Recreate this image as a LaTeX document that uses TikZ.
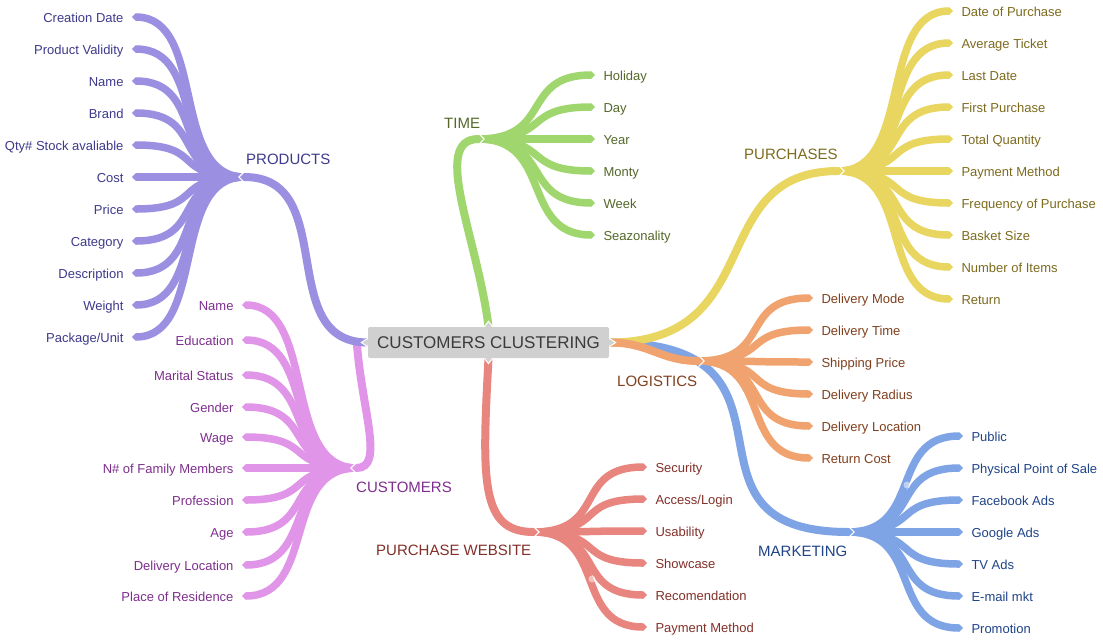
\documentclass[tikz,border=0pt]{standalone}
\usepackage{fontspec}
\setmainfont{Liberation Sans}
\usetikzlibrary{calc,arrows.meta,backgrounds}

\definecolor{prodln}{HTML}{9B8FE2}
\definecolor{prodtx}{HTML}{3E3A8C}
\definecolor{custln}{HTML}{E195E8}
\definecolor{custtx}{HTML}{7E2F8E}
\definecolor{timeln}{HTML}{A0D66E}
\definecolor{timetx}{HTML}{55682A}
\definecolor{purcln}{HTML}{E8D660}
\definecolor{purctx}{HTML}{7D6B1E}
\definecolor{logiln}{HTML}{F0A36E}
\definecolor{logitx}{HTML}{80401E}
\definecolor{markln}{HTML}{7EA4E6}
\definecolor{marktx}{HTML}{1F4488}
\definecolor{websln}{HTML}{E8857E}
\definecolor{webstx}{HTML}{82302A}
\definecolor{boxgray}{HTML}{D0D0D0}
\definecolor{ctrtx}{HTML}{3B3B3B}

\tikzset{
  twig/.style={line width=7.5pt, -{Triangle[length=4pt,width=7.5pt,line width=0.1pt]}},
  trunk/.style={line width=8pt, -{Triangle[length=4.5pt,width=8pt,line width=0.1pt]}},
  leafL/.style={anchor=east, inner sep=0pt, outer xsep=8.5pt, text height=11.3pt, text depth=0pt, font=\fontsize{13}{15}\selectfont},
  leafR/.style={leafL, anchor=west},
  grp/.style={anchor=west, inner sep=0pt, text height=12.7pt, text depth=0pt, font=\fontsize{15}{18}\selectfont},
  ctr/.style={fill=boxgray, rounded corners=2pt, minimum width=241pt, minimum height=31pt, inner sep=0pt, text=ctrtx, font=\fontsize{17}{20}\selectfont},
  notch/.style={white, line width=1.2pt}
}
\newcommand\notchL[1]{\draw[notch] ($(#1)+(4.4,-5.5)$) -- ($(#1)+(-1.1,0)$) -- ($(#1)+(4.4,5.5)$);}
\newcommand\notchR[1]{\draw[notch] ($(#1)+(-4.4,-5.5)$) -- ($(#1)+(1.1,0)$) -- ($(#1)+(-4.4,5.5)$);}

\begin{document}
\begin{tikzpicture}[x=1pt,y=-1pt]
\useasboundingbox (0,0) rectangle (1103,641);
\pgfmathsetmacro{\k}{75}

% centre
\node[ctr] (cc) at (488.5,342.5) {CUSTOMERS CLUSTERING};
\coordinate (ccw) at ($(cc.west)+(-11,0)$);

% branch points
\coordinate (bprod) at (240,177);
\coordinate (bcust) at (352,468);
\coordinate (btime) at (483,139);
\coordinate (bpurc) at (843,171);
\coordinate (blogi) at (703,361);
\coordinate (bmark) at (853,532);
\coordinate (bwebs) at (538,532);

% leaves
\foreach \t [count=\i from 0] in {Creation Date,Product Validity,Name,Brand,Qty\# Stock avaliable,Cost,Price,Category,Description,Weight,Package/Unit}
  \node[leafL, text=prodtx] (prod\i) at (132,{17+32*\i}) {\t};
\foreach \y/\t [count=\i] in {305/Name,340/Education,375/Marital Status,407/Gender,437/Wage,468/N\# of Family Members,500/Profession,532/Age,565/Delivery Location,596/Place of Residence}
  \node[leafL, text=custtx] (cust\i) at (242,\y) {\t};
\foreach \t [count=\i from 0] in {Holiday,Day,Year,Monty,Week,Seazonality}
  \node[leafR, text=timetx] (time\i) at (595,{75+32*\i}) {\t};
\foreach \t [count=\i from 0] in {Date of Purchase,Average Ticket,Last Date,First Purchase,Total Quantity,Payment Method,Frequency of Purchase,Basket Size,Number of Items,Return}
  \node[leafR, text=purctx] (purc\i) at (953,{11+32*\i}) {\t};
\foreach \t [count=\i from 0] in {Delivery Mode,Delivery Time,Shipping Price,Delivery Radius,Delivery Location,Return Cost}
  \node[leafR, text=logitx] (logi\i) at (813,{298+32*\i}) {\t};
\foreach \t [count=\i from 0] in {Public,Physical Point of Sale,Facebook Ads,Google Ads,TV Ads,E-mail mkt,Promotion}
  \node[leafR, text=marktx] (mark\i) at (963,{436+32*\i}) {\t};
\foreach \t [count=\i from 0] in {Security,Access/Login,Usability,Showcase,Recomendation,Payment Method}
  \node[leafR, text=webstx] (webs\i) at (647,{467+32*\i}) {\t};

% group labels
\node[grp, text=prodtx] (lprod) at (246,158) {PRODUCTS};
\node[grp, text=custtx] (lcust) at (356,486) {CUSTOMERS};
\node[grp, text=timetx] (ltime) at (444,122) {TIME};
\node[grp, text=purctx] (lpurc) at (744,153) {PURCHASES};
\node[grp, text=logitx] (llogi) at (617,380) {LOGISTICS};
\node[grp, text=marktx] (lmark) at (758,550) {MARKETING};
\node[grp, text=webstx] (lwebs) at (376,549) {PURCHASE WEBSITE};

\begin{scope}[on background layer]
\fill[white] (0,0) rectangle (1103,641);

% twigs
\foreach \i in {0,...,10}
  \draw[twig, prodln] ($(bprod)+(4.5,0)$) .. controls +(-\k,0) and +(\k,0) .. (prod\i.east);
\foreach \i in {1,...,10}
  \draw[twig, custln] ($(bcust)+(4.5,0)$) .. controls +(-\k,0) and +(\k,0) .. (cust\i.east);
\foreach \i in {0,...,5}
  \draw[twig, timeln] ($(btime)+(-4.5,0)$) .. controls +(\k,0) and +(-\k,0) .. (time\i.west);
\foreach \i in {0,...,9}
  \draw[twig, purcln] ($(bpurc)+(-4.5,0)$) .. controls +(\k,0) and +(-\k,0) .. (purc\i.west);
\foreach \i in {0,...,6}
  \draw[twig, markln] ($(bmark)+(-4.5,0)$) .. controls +(\k,0) and +(-\k,0) .. (mark\i.west);
\foreach \i in {0,...,5}
  \draw[twig, websln] ($(bwebs)+(-4.5,0)$) .. controls +(\k,0) and +(-\k,0) .. (webs\i.west);

% trunks
\draw[trunk, custln] (ccw) .. controls +(5,68) and +(33,0) .. (bcust);
\draw[trunk, prodln] (cc.west) .. controls +(-94,0) and +(100,0) .. (bprod);
\draw[trunk, timeln] (cc.north) .. controls +(-10.5,-87) and +(-53,0) .. (btime);
\draw[trunk, websln] (cc.south) .. controls +(-6.5,122) and +(-58,0) .. (bwebs);
\draw[trunk, markln] (cc.east) .. controls +(217,0) and +(-195,0) .. (bmark);
\draw[trunk, purcln] (cc.east) .. controls +(161,0) and +(-140,0) .. (bpurc);
\foreach \i in {0,...,5}
  \draw[twig, logiln] ($(blogi)+(-4.5,0)$) .. controls +(\k,0) and +(-\k,0) .. (logi\i.west);
\draw[trunk, logiln] (cc.east) .. controls +(41,0) and +(-43,0) .. (blogi);

% notches
\notchL{bprod}
\notchL{bcust}
\notchR{btime}
\notchR{bpurc}
\notchR{blogi}
\notchR{bmark}
\notchR{bwebs}

% tips of the centre box
\filldraw[fill=boxgray, draw=white, line width=1pt] ($(cc.north)+(-4.5,0.5)$) -- ++(4.5,-6) -- ++(4.5,6) -- cycle;
\filldraw[fill=boxgray, draw=white, line width=1pt] ($(cc.south)+(-4.5,-0.5)$) -- ++(4.5,6) -- ++(4.5,-6) -- cycle;
\filldraw[fill=boxgray, draw=white, line width=1pt] ($(cc.west)+(0.5,-4.5)$) -- ++(-7,4.5) -- ++(7,4.5) -- cycle;
\filldraw[fill=boxgray, draw=white, line width=1pt] ($(cc.east)+(-0.5,-4.5)$) -- ++(7,4.5) -- ++(-7,4.5) -- cycle;

% handles
\fill[white, opacity=.5] (907,485) circle (3.5);
\fill[white, opacity=.5] (592,579) circle (3.5);
\end{scope}
\end{tikzpicture}
\end{document}
